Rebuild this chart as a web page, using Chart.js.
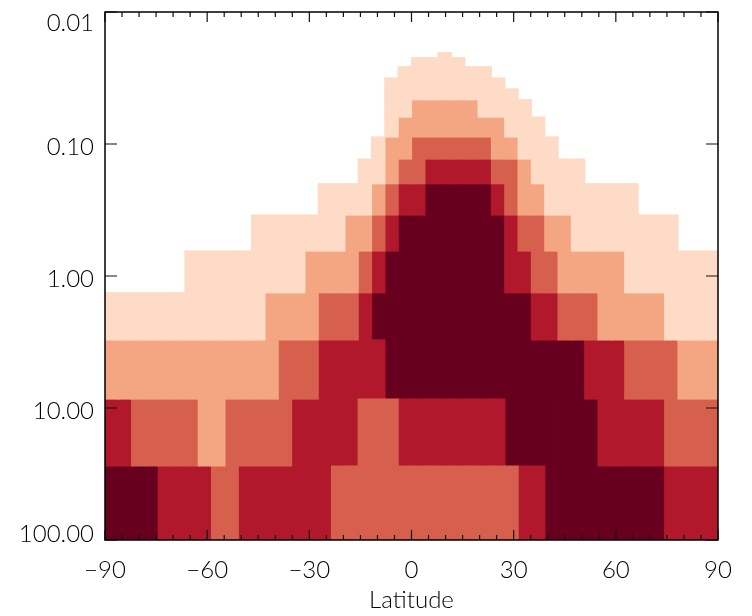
<!DOCTYPE html>
<html>
<head>
<meta charset="utf-8">
<script src="https://cdn.jsdelivr.net/npm/chart.js@4"></script>
<style>
  html, body { margin: 0; padding: 0; background: #ffffff; }
  #wrap { width: 752px; height: 616px; }
</style>
</head>
<body>
<div id="wrap"><canvas id="c" width="752" height="616"></canvas></div>
<script>
// ---------------- DATA ----------------
// Latitude cell centres (46 cells from -90 to 90)
const latitudes = [
  -88.043, -84.130, -80.217, -76.304, -72.391, -68.478, -64.565, -60.652,
  -56.739, -52.826, -48.913, -45.000, -41.087, -37.174, -33.261, -29.348,
  -25.435, -21.522, -17.609, -13.696,  -9.783,  -5.870,  -1.957,   1.957,
    5.870,   9.783,  13.696,  17.609,  21.522,  25.435,  29.348,  33.261,
   37.174,  41.087,  45.000,  48.913,  52.826,  56.739,  60.652,  64.565,
   68.478,  72.391,  76.304,  80.217,  84.130,  88.043
];
// Pressure layer edges (top to bottom), 16 layers
const pressureEdges = [
  0.0203, 0.0222, 0.0260, 0.0316, 0.0383, 0.0462, 0.0625, 0.0885,
  0.130, 0.200, 0.345, 0.647, 1.34, 3.05, 8.55, 27.5, 100
];
// Contour level index per cell (0 = below lowest level), one string per layer, top to bottom
const levelRows = [
  "0000000000000000000000000100000000000000000000",
  "0000000000000000000000011110000000000000000000",
  "0000000000000000000000111111100000000000000000",
  "0000000000000000000001111111110000000000000000",
  "0000000000000000000001111111111000000000000000",
  "0000000000000000000001122222111100000000000000",
  "0000000000000000000001222222221110000000000000",
  "0000000000000000000012233333322111000000000000",
  "0000000000000000000112334444433211110000000000",
  "0000000000000000111123445555543221111111000000",
  "0000000000011111112234555555554332211111111000",
  "0000001111111112222345555555554433222221111111",
  "1111111111112222333455555555555544333222221111",
  "2222222222222333444445555555555555554443333222",
  "4433333223333344444333444444445555555444443333",
  "5555444433444444433333333333333445555555554444"
];
const levelColors = ['#fddbc7', '#f4a582', '#d6604d', '#b2182b', '#67001f'];
const levelNames = ['Level 1', 'Level 2', 'Level 3', 'Level 4', 'Level 5'];
const xTickValues = [-90, -60, -30, 0, 30, 60, 90];
const xMinorStep = 5;
const yTickValues = [0.01, 0.1, 1, 10, 100];
const yTickLabels = ['0.01', '0.10', '1.00', '10.00', '100.00'];
const xTitle = 'Latitude';

// ---------------- BUILD DATASETS ----------------
const datasets = levelColors.map((color, li) => {
  const lvl = String(li + 1);
  const data = [];
  levelRows.forEach((row, r) => {
    for (let k = 0; k < row.length; k++) {
      if (row[k] === lvl) {
        data.push({ x: latitudes[k], y: [pressureEdges[r], pressureEdges[r + 1]] });
      }
    }
  });
  return {
    label: levelNames[li],
    data,
    backgroundColor: color,
    borderWidth: 0,
    inflateAmount: 0.6,
    grouped: false,
    barPercentage: 1,
    categoryPercentage: 1
  };
});

const FONT = 'Lato';
const FW = 300;

const axisMarks = {
  id: 'axisMarks',
  afterDatasetsDraw(chart) {
    const { ctx, chartArea: a, scales } = chart;
    const x = scales.x, y = scales.y;
    ctx.save();
    ctx.strokeStyle = '#111';
    ctx.lineWidth = 1.2;
    ctx.beginPath();
    for (let v = -90; v <= 90; v += xMinorStep) {
      const px = x.getPixelForValue(v);
      const len = xTickValues.includes(v) ? 10 : 5;
      ctx.moveTo(px, a.bottom); ctx.lineTo(px, a.bottom - len);
      ctx.moveTo(px, a.top); ctx.lineTo(px, a.top + len);
    }
    yTickValues.forEach(v => {
      const py = y.getPixelForValue(v);
      ctx.moveTo(a.left, py); ctx.lineTo(a.left + 12, py);
      ctx.moveTo(a.right, py); ctx.lineTo(a.right - 12, py);
    });
    ctx.stroke();
    ctx.lineWidth = 1.5;
    ctx.strokeStyle = '#000';
    ctx.strokeRect(a.left, a.top, a.right - a.left, a.bottom - a.top);
    ctx.restore();
  }
};

new Chart(document.getElementById('c'), {
  type: 'bar',
  data: { datasets },
  plugins: [axisMarks],
  options: {
    responsive: false,
    animation: false,
    devicePixelRatio: 1,
    layout: { padding: { left: 0, right: 34, top: 12, bottom: 0 } },
    plugins: { legend: { display: false }, tooltip: { enabled: false } },
    scales: {
      x: {
        type: 'linear',
        position: 'bottom',
        min: -90,
        max: 90,
        offset: false,
        grid: { display: false, drawTicks: false, offset: false },
        border: { display: false },
        afterBuildTicks: s => { s.ticks = xTickValues.map(v => ({ value: v })); },
        ticks: {
          autoSkip: false,
          maxRotation: 0,
          padding: 16,
          color: '#000',
          font: { family: FONT, size: 24, weight: FW },
          callback: v => (v < 0 ? '\u2212' + Math.abs(v) : String(v))
        },
        title: {
          display: true,
          text: xTitle,
          color: '#000',
          font: { family: FONT, size: 24, weight: FW },
          padding: { top: 0, bottom: 1 }
        },
        afterFit: s => { s.height = 76; s.paddingLeft = 0; s.paddingRight = 0; }
      },
      y: {
        type: 'logarithmic',
        position: 'left',
        reverse: true,
        min: 0.01,
        max: 100,
        grid: { display: false, drawTicks: false },
        border: { display: false },
        afterBuildTicks: s => { s.ticks = yTickValues.map(v => ({ value: v })); },
        ticks: {
          autoSkip: false,
          padding: 11,
          labelOffset: 3,
          color: '#000',
          font: { family: FONT, size: 24, weight: FW, lineHeight: '17px' },
          callback: (v, i, arr) => {
            const lab = yTickLabels[i];
            if (i === 0) return ['', lab];
            if (i === arr.length - 1) return [lab, ''];
            return lab;
          }
        },
        afterFit: s => { s.width = 105; s.paddingTop = 0; s.paddingBottom = 0; }
      }
    }
  }
});
</script>
</body>
</html>
